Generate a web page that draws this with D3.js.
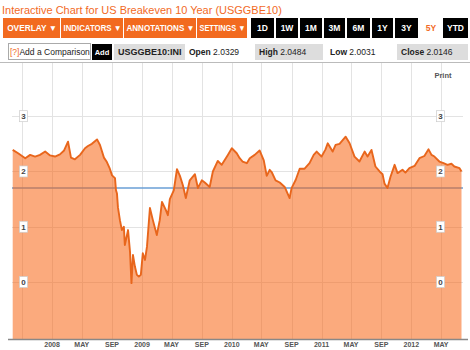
<!DOCTYPE html>
<html><head><meta charset="utf-8">
<script src="https://cdn.jsdelivr.net/npm/d3@7/dist/d3.min.js"></script>
<style>body{margin:0;background:#fff;} svg{display:block;font-family:"Liberation Sans",Arial,Helvetica,sans-serif;}</style>
</head><body><svg id="c" width="470" height="350"></svg>
<script>
// ---- data ----
const dates = ["2007-07-25","2007-08-16","2007-09-14","2007-10-04","2007-10-24","2007-11-13","2007-12-04","2007-12-24",
"2008-01-13","2008-02-02","2008-02-19","2008-03-06","2008-03-18","2008-04-03","2008-04-24","2008-05-14","2008-05-26","2008-06-11",
"2008-07-02","2008-07-14","2008-07-30","2008-08-11","2008-08-23","2008-09-01","2008-09-13","2008-09-17","2008-09-21","2008-09-25",
"2008-10-03","2008-10-11","2008-10-19","2008-10-23","2008-11-05","2008-11-13","2008-11-19","2008-11-25","2008-12-03","2008-12-11",
"2008-12-19","2008-12-27","2009-01-04","2009-01-13","2009-01-21","2009-02-02","2009-02-14","2009-03-02","2009-03-14","2009-03-23",
"2009-04-08","2009-04-16","2009-04-24","2009-05-10","2009-05-23","2009-06-04","2009-06-16","2009-06-28","2009-07-14","2009-08-04",
"2009-08-16","2009-09-01","2009-09-13","2009-10-03","2009-10-16","2009-11-05","2009-11-21","2009-12-16","2010-01-01","2010-01-21",
"2010-02-02","2010-02-14","2010-03-03","2010-03-15","2010-04-04","2010-04-24","2010-05-11","2010-05-23","2010-06-04","2010-06-12",
"2010-06-28","2010-07-15","2010-08-04","2010-08-16","2010-08-24","2010-09-01","2010-09-18","2010-10-04","2010-10-24","2010-11-13",
"2010-11-30","2010-12-12","2011-01-01","2011-01-17","2011-01-26","2011-02-15","2011-02-27","2011-03-15","2011-04-09","2011-04-25",
"2011-05-15","2011-06-04","2011-06-25","2011-07-07","2011-07-23","2011-08-08","2011-08-25","2011-09-06","2011-09-14","2011-09-26",
"2011-10-08","2011-10-25","2011-11-06","2011-11-26","2011-12-08","2011-12-24","2012-01-14","2012-02-03","2012-02-23","2012-03-11",
"2012-03-23","2012-04-04","2012-04-24","2012-05-11","2012-05-27","2012-06-12","2012-06-24","2012-07-15","2012-07-23"];
const values = [2.39,2.33,2.24,2.30,2.27,2.30,2.36,2.29,
2.27,2.31,2.38,2.54,2.25,2.22,2.30,2.42,2.46,2.50,
2.58,2.48,2.25,2.17,2.05,1.93,1.88,1.66,1.60,1.35,
1.12,0.94,1.00,0.67,0.94,0.55,-0.02,0.49,0.28,0.13,
0.10,0.13,0.52,0.40,0.64,1.34,1.12,0.85,1.12,1.45,
1.30,1.21,1.50,1.66,2.04,1.92,1.75,1.52,1.84,1.95,
1.70,1.84,1.80,1.72,2.00,2.19,2.12,2.30,2.42,2.33,
2.24,2.18,2.15,2.24,2.30,2.38,2.20,1.92,2.03,1.99,
1.84,1.80,1.72,1.60,1.52,1.70,1.85,2.05,2.05,2.15,
2.30,2.36,2.27,2.40,2.51,2.36,2.48,2.50,2.63,2.51,
2.27,2.18,2.36,2.27,2.39,2.09,2.00,1.95,1.78,1.70,
1.90,2.12,1.97,2.03,1.98,2.06,2.10,2.24,2.28,2.40,
2.30,2.27,2.18,2.15,2.12,2.14,2.09,2.06,2.00];
const referenceLevel = 1.70;
const yTicks = [0, 1, 2, 3];
const xTickDates = ["2008-01-01","2008-05-01","2008-09-01","2009-01-01","2009-05-01","2009-09-01","2010-01-01","2010-05-01","2010-09-01","2011-01-01","2011-05-01","2011-09-01","2012-01-01","2012-05-01"];
const xTickLabels = ["2008","MAY","SEP","2009","MAY","SEP","2010","MAY","SEP","2011","MAY","SEP","2012","MAY"];
const titleText = "Interactive Chart for US Breakeven 10 Year (USGGBE10)";
const menuLabels = ["OVERLAY \u25BC","INDICATORS \u25BC","ANNOTATIONS \u25BC","SETTINGS \u25BC"];
const rangeLabels = ["1D","1W","1M","3M","6M","1Y","3Y","5Y","YTD"];
const activeRange = "5Y";
const quoteSymbol = "USGGBE10:INI";
const quoteNames = ["Open","High","Low","Close"];
const quoteValues = ["2.0329","2.0484","2.0031","2.0146"];

// ---- drawing ----
const svg = d3.select("#c");
const parse = d3.timeParse("%Y-%m-%d");
const data = dates.map((d,i)=>({date:parse(d), value:values[i]}));
const ORANGE = "#f26a1f";

// title
const title = svg.append("text").attr("x",2).attr("y",14).attr("fill",ORANGE)
  .style("font-size","13px").text(titleText);
const tw = title.node().getComputedTextLength();
title.style("font-size", (13*280/tw).toFixed(2)+"px");

// menu toolbar
const menuX = [3, 61, 124, 197, 248];
const mg = svg.append("g");
menuLabels.forEach((l,i)=>{
  mg.append("rect").attr("x",menuX[i]).attr("y",18).attr("width",menuX[i+1]-menuX[i]-1).attr("height",20).attr("fill",ORANGE);
  const t = mg.append("text").attr("x",(menuX[i]+menuX[i+1])/2).attr("y",31).attr("text-anchor","middle")
    .attr("fill","#fff").style("font-size","8.3px").style("font-weight","bold").text(l);
  const w = t.node().getComputedTextLength(), avail = menuX[i+1]-menuX[i]-5;
  if (w > avail) t.attr("textLength", avail).attr("lengthAdjust","spacingAndGlyphs");
});
const rangeX = [251,276,300,324,347,372,395,420,443];
const rangeW = [23,22,22,21,23,21,23,22,25];
rangeLabels.forEach((l,i)=>{
  const act = l===activeRange;
  mg.append("rect").attr("x",rangeX[i]).attr("y",18).attr("width",rangeW[i]).attr("height",20).attr("fill",act?"#fff":"#000");
  mg.append("text").attr("x",rangeX[i]+rangeW[i]/2).attr("y",31).attr("text-anchor","middle")
    .attr("fill",act?ORANGE:"#fff").style("font-size","8.5px").style("font-weight","bold").text(l);
});

// quote row
const qg = svg.append("g").style("font-size","8.5px");
qg.append("rect").attr("x",8.5).attr("y",43.5).attr("width",82).attr("height",16).attr("fill","#fff").attr("stroke","#aaa");
const cmp = qg.append("text").attr("x",10).attr("y",55);
cmp.append("tspan").attr("fill",ORANGE).text("[?]");
cmp.append("tspan").attr("fill","#222").text("Add a Comparison");
qg.append("rect").attr("x",92).attr("y",44).attr("width",20).attr("height",16).attr("fill","#000");
qg.append("text").attr("x",102).attr("y",55).attr("text-anchor","middle").attr("fill","#fff").style("font-weight","bold").style("font-size","7.5px").text("Add");
qg.append("rect").attr("x",114).attr("y",44).attr("width",71).attr("height",16).attr("fill","#ddd");
qg.append("text").attr("x",118).attr("y",55).attr("fill","#222").style("font-weight","bold").style("font-size","9px").text(quoteSymbol);
const qx = [189, 255, 330, 397];
const qw = [60, 68, 62, 71];
quoteNames.forEach((n,i)=>{
  if (i%2===1) qg.append("rect").attr("x",qx[i]).attr("y",44).attr("width",qw[i]).attr("height",16).attr("fill","#ddd");
  const t = qg.append("text").attr("x",qx[i]+(i%2===1?4:0)).attr("y",55).attr("fill","#222");
  t.append("tspan").style("font-weight","bold").text(n+" ");
  t.append("tspan").text(quoteValues[i]);
});

// plot
const x = d3.scaleTime().domain([parse("2007-07-25"), parse("2012-07-23")]).range([12.7, 461.5]);
const y = d3.scaleLinear().domain([-1.03, 3.98]).range([339, 62]);

svg.append("line").attr("x1",0).attr("x2",470).attr("y1",62.5).attr("y2",62.5).attr("stroke","#bbb");

const grid = svg.append("g").attr("stroke","#e3e3e3").attr("stroke-width",1);
const months = d3.timeMonth.every(4).range(parse("2007-07-01"), parse("2012-12-31"));
grid.selectAll("line.v").data(months).join("line")
  .attr("x1",d=>Math.round(x(d))+0.5).attr("x2",d=>Math.round(x(d))+0.5).attr("y1",63).attr("y2",339);
grid.selectAll("line.h").data(yTicks).join("line")
  .attr("x1",12).attr("x2",463).attr("y1",d=>Math.round(y(d))+0.5).attr("y2",d=>Math.round(y(d))+0.5);

// reference line
svg.append("line").attr("x1",12).attr("x2",463).attr("y1",y(referenceLevel)).attr("y2",y(referenceLevel))
  .attr("stroke","#6a9fd6").attr("stroke-width",1.5);

// area + line
const area = d3.area().x(d=>x(d.date)).y0(y(-1.03)).y1(d=>y(d.value));
svg.append("path").datum(data).attr("d",area).attr("fill","rgb(247,100,18)").attr("fill-opacity",0.55);
const line = d3.line().x(d=>x(d.date)).y(d=>y(d.value));
svg.append("path").datum(data).attr("d",line).attr("fill","none").attr("stroke","#e8661c").attr("stroke-width",1.9).attr("stroke-linejoin","round");

// y labels (both sides)
[23.5, 440.5].forEach(cx=>{
  const g = svg.append("g");
  yTicks.forEach(t=>{
    g.append("rect").attr("x",cx-4).attr("y",y(t)-5.5).attr("width",8).attr("height",11)
      .attr("fill","#fff").attr("stroke","#ccc").attr("stroke-width",0.7);
    g.append("text").attr("x",cx).attr("y",y(t)+3).attr("text-anchor","middle")
      .attr("fill","#444").style("font-size","8px").style("font-weight","bold").text(t);
  });
});

// x axis
svg.append("line").attr("x1",8).attr("x2",468).attr("y1",339.5).attr("y2",339.5).attr("stroke","#888").attr("stroke-width",1.5);
const xa = svg.append("g");
xTickDates.forEach((d,i)=>{
  xa.append("text").attr("x",x(parse(d))).attr("y",347).attr("text-anchor","middle")
    .attr("fill","#555").style("font-size","7px").style("font-weight","bold").text(xTickLabels[i]);
});

// Print
svg.append("text").attr("x",443).attr("y",78).attr("text-anchor","middle").attr("fill","#555")
  .style("font-size","7.5px").style("font-weight","bold").text("Print");
</script></body></html>
